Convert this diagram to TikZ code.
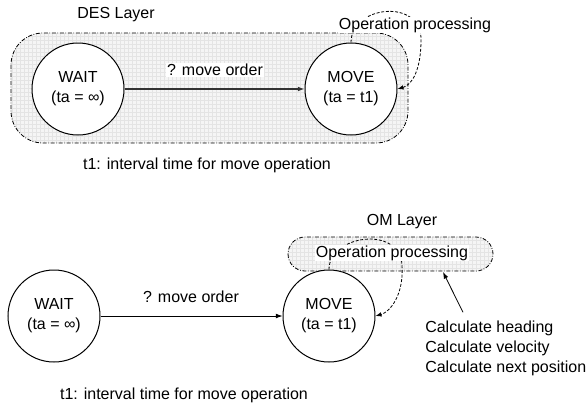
\documentclass[tikz,border=0pt]{standalone}
\usepackage{fontspec}
\setmainfont{Liberation Sans}
\usetikzlibrary{arrows.meta, positioning, calc}
\definecolor{LayerFill}{HTML}{F5F5F5}
\definecolor{LayerGrid}{HTML}{E4E4E4}

\begin{document}
\begin{tikzpicture}[
    x=0.75pt, y=-0.75pt,
    every node/.style={font=\fontsize{12}{15}\selectfont},
    state/.style={
      circle, draw, fill=white, line width=0.75pt, minimum size=69pt,
      inner sep=0pt, align=center
    },
    layer/.style={draw, line width=0.6pt, dash pattern=on 3pt off 1.2pt on 0.6pt off 1.2pt},
    tag/.style={fill=white, inner sep=0.6pt},
    rel/.style={-{Latex[length=5pt, width=3.6pt]}, line width=0.6pt},
    selfloop/.style={-{Latex[length=4.5pt, width=3.4pt]}, line width=0.6pt, dash pattern=on 2.2pt off 1.3pt}
  ]
  \useasboundingbox (0,0) rectangle (586,404);

  % DES layer (upper model)
  \begin{scope}
    \clip[rounded corners=24pt] (11,33) rectangle (408,143);
    \fill[LayerFill] (11,33) rectangle (408,143);
    \draw[LayerGrid, line width=0.25pt, step=3pt] (11,33) grid (408,143);
  \end{scope}
  \draw[layer, rounded corners=24pt] (11,33) rectangle (408,143);
  \node (deslabel) at (116,15) {DES Layer};

  \node[state] (waitA) at (78,89) {WAIT\\(ta = ∞)};
  \node[state] (moveA) at (351,89) {MOVE\\(ta = t1)};
  \draw[rel, line width=0.9pt, black!80] (waitA) -- (moveA);
  \node[tag] (orderA) at (215,70) {? move order};
  \draw[selfloop] (moveA.north) .. controls (351,5) and (422,-2) .. (421,40)
                                .. controls (421,70) and (412,85) .. (moveA.east);
  \node[tag] (procA) at (415,25) {Operation processing};
  \node (noteA) at (207,165) {t1: interval time for move operation};

  % OM layer (lower model)
  \begin{scope}
    \clip[rounded corners=12.75pt] (288,237) rectangle (493,271);
    \fill[LayerFill] (288,237) rectangle (493,271);
    \draw[LayerGrid, line width=0.25pt, step=3pt] (288,237) grid (493,271);
  \end{scope}
  \draw[layer, rounded corners=12.75pt] (288,237) rectangle (493,271);
  \node (omlabel) at (402,222) {OM Layer};

  \node[state] (waitB) at (54,316) {WAIT\\(ta = ∞)};
  \node[state] (moveB) at (329,316) {MOVE\\(ta = t1)};
  \draw[rel] (waitB) -- (moveB);
  \node (orderB) at (191,297) {? move order};
  \draw[selfloop] (moveB.north) .. controls (329,235) and (400,225) .. (402,265)
                                .. controls (404,295) and (390,312) .. (moveB.east);
  \node[tag] (procB) at (392,253) {Operation processing};
  \node (noteB) at (184,395) {t1: interval time for move operation};

  \coordinate (omfoot) at (443,272);
  \node[align=left, anchor=west, inner sep=0pt] (calcs) at (425,348)
    {Calculate heading\\Calculate velocity\\Calculate next position};
  \draw[rel] ($(calcs.north west)+(38,-8)$) -- (omfoot);
\end{tikzpicture}
\end{document}
